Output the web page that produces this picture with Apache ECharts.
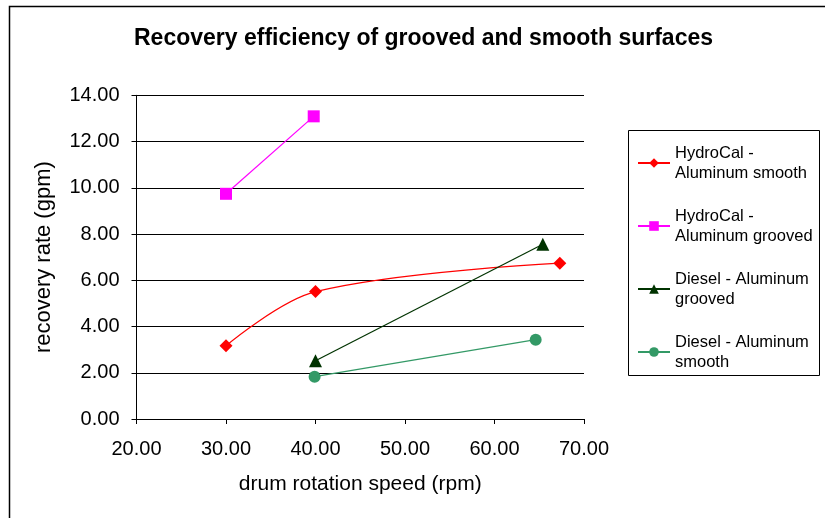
<!DOCTYPE html>
<html><head><meta charset="utf-8">
<script src="https://cdn.jsdelivr.net/npm/echarts@6/dist/echarts.min.js"></script>
<style>html,body{margin:0;padding:0;background:#fff}#c{width:825px;height:518px}</style>
</head><body><div id="c"></div>
<script>
const titleText = 'Recovery efficiency of grooved and smooth surfaces';
const xName = 'drum rotation speed (rpm)';
const yName = 'recovery rate (gpm)';
const seriesNames = ['HydroCal - Aluminum smooth','HydroCal - Aluminum grooved','Diesel - Aluminum grooved','Diesel - Aluminum smooth'];
const legendLabels = ['HydroCal -\nAluminum smooth','HydroCal -\nAluminum grooved','Diesel - Aluminum\ngrooved','Diesel - Aluminum\nsmooth'];
const hcSmooth = [[30,3.17],[40,5.51],[67.3,6.74]];
const hcGrooved = [[30,9.74],[39.8,13.09]];
const dsGrooved = [[40,2.52],[65.4,7.56]];
const dsSmooth = [[39.9,1.83],[64.6,3.43]];
const colors = ['#ff0000','#ff00ff','#003300','#339966'];
const symbols = ['diamond','rect','triangle','circle'];
const symbolSizes = [13,12,13,12];
const datasets = [hcSmooth,hcGrooved,dsGrooved,dsSmooth];

const chart = echarts.init(document.getElementById('c'));
const F = 'Liberation Sans, Arial, sans-serif';
chart.setOption({
  animation:false,
  title:{text:titleText,left:134,top:27,padding:0,textStyle:{fontFamily:F,fontSize:23,fontWeight:'bold',color:'#000'}},
  grid:{left:136.5,right:241,top:95.3,bottom:99},
  xAxis:{type:'value',min:20,max:70,interval:10,name:xName,nameLocation:'middle',nameGap:55,
    nameTextStyle:{fontFamily:F,fontSize:21,color:'#000'},
    axisLine:{show:true,lineStyle:{color:'#000',width:1}},axisTick:{show:true,length:5,lineStyle:{color:'#000'}},
    splitLine:{show:false},axisLabel:{fontFamily:F,fontSize:20,color:'#000',margin:20,formatter:v=>v.toFixed(2)}},
  yAxis:{type:'value',min:0,max:14,interval:2,name:yName,nameLocation:'middle',nameGap:82,
    nameTextStyle:{fontFamily:F,fontSize:22,color:'#000'},
    axisLine:{show:true,lineStyle:{color:'#000',width:1}},axisTick:{show:true,length:5,lineStyle:{color:'#000'}},
    splitLine:{show:true,lineStyle:{color:'#000',width:1}},axisLabel:{fontFamily:F,fontSize:20,color:'#000',margin:17,formatter:v=>v.toFixed(2)}},
  legend:{orient:'vertical',left:637,top:143,itemWidth:32,itemHeight:12,itemGap:23,padding:0,
    textStyle:{fontFamily:F,fontSize:16.5,color:'#000',lineHeight:20},
    formatter:n=>legendLabels[seriesNames.indexOf(n)],
    data:seriesNames},
  graphic:[
    {type:'rect',shape:{x:9.5,y:6.5,width:900,height:600},style:{fill:'none',stroke:'#000',lineWidth:1.5},silent:true,z:-1},
    {type:'rect',shape:{x:628.5,y:130.5,width:191,height:245},style:{fill:'none',stroke:'#000',lineWidth:1},silent:true,z:-1}
  ],
  series:datasets.map((d,i)=>({
    name:seriesNames[i],type:'line',data:d,symbol:symbols[i],symbolSize:symbolSizes[i],
    smooth:i===0?0.35:false,
    itemStyle:{color:colors[i]},lineStyle:{color:colors[i],width:1.2}
  }))
});
</script></body></html>
